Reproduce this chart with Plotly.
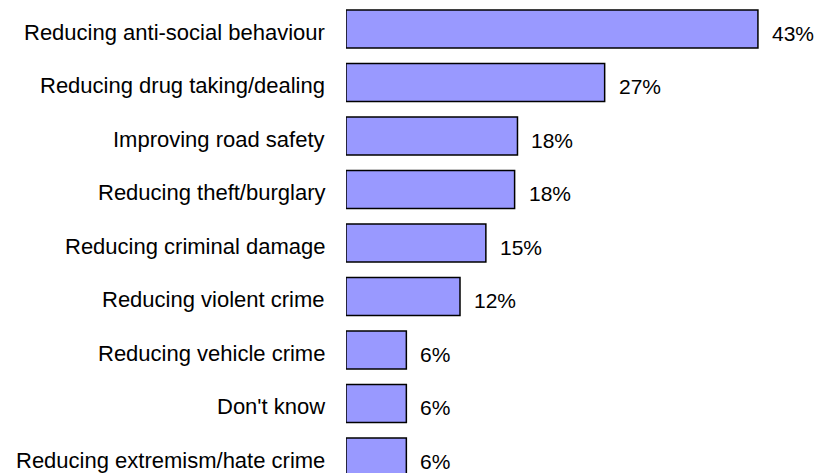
import plotly.graph_objects as go

categories = [
    "Reducing anti-social behaviour",
    "Reducing drug taking/dealing",
    "Improving road safety",
    "Reducing theft/burglary",
    "Reducing criminal damage",
    "Reducing violent crime",
    "Reducing vehicle crime",
    "Don't know",
    "Reducing extremism/hate crime",
]
values = [43.0, 27.0, 17.9, 17.6, 14.6, 11.9, 6.3, 6.3, 6.3]
value_labels = ["43%", "27%", "18%", "18%", "15%", "12%", "6%", "6%", "6%"]

FONT = "Liberation Sans, Arial, sans-serif"

fig = go.Figure(
    go.Bar(
        x=values,
        y=categories,
        orientation="h",
        marker=dict(color="#9999FF", line=dict(color="#000000", width=1.5)),
        hoverinfo="skip",
    )
)

for c, v, t in zip(categories, values, value_labels):
    fig.add_annotation(
        x=v, y=c, text=t, showarrow=False, xanchor="left", yanchor="middle",
        xshift=12, yshift=-4, font=dict(family=FONT, size=21, color="#000000"),
    )
    fig.add_annotation(
        x=0, xref="paper", y=c, text=c, showarrow=False, xanchor="right",
        yanchor="middle", xshift=-19, yshift=-3,
        font=dict(family=FONT, size=22, color="#000000"),
    )

px_per_unit = 9.58
plot_w = 816 - 346
top_center = 29.0
pitch = 53.5

fig.update_layout(
    width=816, height=473,
    margin=dict(l=346, r=0, t=0, b=0),
    paper_bgcolor="white", plot_bgcolor="white",
    bargap=0.29,
    showlegend=False,
    font=dict(family=FONT, size=20, color="#000000"),
    xaxis=dict(range=[0, plot_w / px_per_unit], visible=False, fixedrange=True),
    yaxis=dict(
        type="category",
        categoryorder="array", categoryarray=categories,
        range=[(473 - top_center) / pitch, -top_center / pitch],
        showgrid=False, zeroline=False, showline=False,
        ticks="", showticklabels=False,
        fixedrange=True,
    ),
)

fig.write_html("out.html")
